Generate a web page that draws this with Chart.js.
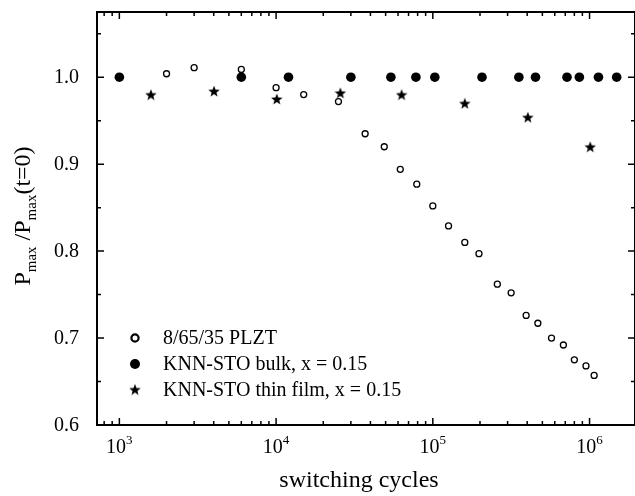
<!DOCTYPE html>
<html>
<head>
<meta charset="utf-8">
<script src="https://cdn.jsdelivr.net/npm/chart.js@4.4.0/dist/chart.umd.min.js"></script>
<style>
    html, body { margin: 0; padding: 0; background: #fff; overflow: hidden; }
    #wrap { position: relative; width: 642px; height: 496px; }
</style>
</head>
<body>
<div id="wrap"><canvas id="chart"></canvas></div>
<script>
// 8/65/35 PLZT (open circles)
const plztCycles = [2000, 3000, 6000, 10000, 15000, 25000, 37000, 49000, 62000, 79000, 100000, 126000, 160000, 197000, 258000, 316000, 394000, 468000, 572000, 681000, 800000, 949000, 1070000];
const plztValues = [1.004, 1.011, 1.009, 0.988, 0.980, 0.972, 0.935, 0.920, 0.894, 0.877, 0.852, 0.829, 0.810, 0.797, 0.762, 0.752, 0.726, 0.717, 0.700, 0.692, 0.675, 0.668, 0.657];

// KNN-STO bulk (filled circles)
const bulkCycles = [1000, 6000, 12000, 30000, 54000, 78000, 103000, 206000, 354000, 452000, 718000, 861000, 1140000, 1490000];
const bulkValues = [1.0, 1.0, 1.0, 1.0, 1.0, 1.0, 1.0, 1.0, 1.0, 1.0, 1.0, 1.0, 1.0, 1.0];

// KNN-STO thin film (stars)
const filmCycles = [1590, 4020, 10100, 25700, 63200, 160000, 404000, 1010000];
const filmValues = [0.980, 0.984, 0.975, 0.982, 0.980, 0.970, 0.954, 0.920];

const seriesLabels = ['8/65/35 PLZT', 'KNN-STO bulk, x = 0.15', 'KNN-STO thin film, x = 0.15'];

// axis ticks
const xMajorTicks = [1e3, 1e4, 1e5, 1e6];
const xTickExponents = ['3', '4', '5', '6'];
const yMajorTicks = [0.6, 0.7, 0.8, 0.9, 1.0];
const yTickLabels = ['0.6', '0.7', '0.8', '0.9', '1.0'];
const yMinorTicks = [0.65, 0.75, 0.85, 0.95, 1.05];

const FONT = '"Liberation Serif", "Times New Roman", serif';

function makeStar(size) {
    const c = document.createElement('canvas');
    c.width = size;
    c.height = size;
    const g = c.getContext('2d');
    const cx = size / 2, cy = size / 2 + 0.6;
    const R = size / 2, r = R * 0.42;
    g.beginPath();
    for (let i = 0; i < 10; i++) {
        const ang = -Math.PI / 2 + i * Math.PI / 5;
        const rad = i % 2 ? r : R;
        g.lineTo(cx + rad * Math.cos(ang), cy + rad * Math.sin(ang));
    }
    g.closePath();
    g.fillStyle = '#000';
    g.fill();
    return c;
}
const starImg = makeStar(12);

function toPoints(xs, ys) {
    return xs.map((x, i) => ({ x: x, y: ys[i] }));
}

// draws a list of [text, size, dy] runs one after another
function drawRuns(ctx, runs, x, y) {
    let cx = x;
    runs.forEach(r => {
        ctx.font = r[1] + 'px ' + FONT;
        ctx.fillText(r[0], cx, y + r[2]);
        cx += ctx.measureText(r[0]).width;
    });
}
function runsWidth(ctx, runs) {
    let w = 0;
    runs.forEach(r => {
        ctx.font = r[1] + 'px ' + FONT;
        w += ctx.measureText(r[0]).width;
    });
    return w;
}

const framePlugin = {
    id: 'frame',
    afterDraw(chart) {
        const ctx = chart.ctx;
        const a = chart.chartArea;
        const xs = chart.scales.x, ys = chart.scales.y;
        ctx.save();
        ctx.strokeStyle = '#000';
        ctx.fillStyle = '#000';

        // frame
        ctx.lineWidth = 2;
        ctx.strokeRect(a.left, a.top, a.right - a.left, a.bottom - a.top);

        // inward ticks on all four sides
        ctx.lineWidth = 1.5;
        ctx.beginPath();
        yMajorTicks.forEach(v => {
            const py = ys.getPixelForValue(v);
            ctx.moveTo(a.left, py); ctx.lineTo(a.left + 7, py);
            ctx.moveTo(a.right, py); ctx.lineTo(a.right - 7, py);
        });
        yMinorTicks.forEach(v => {
            const py = ys.getPixelForValue(v);
            ctx.moveTo(a.left, py); ctx.lineTo(a.left + 4, py);
            ctx.moveTo(a.right, py); ctx.lineTo(a.right - 4, py);
        });
        for (let d = 100; d <= 1e6; d *= 10) {
            for (let m = 1; m <= 9; m++) {
                const v = d * m;
                if (v < xs.min || v > xs.max) continue;
                const px = xs.getPixelForValue(v);
                const len = m === 1 ? 7 : 4;
                ctx.moveTo(px, a.bottom); ctx.lineTo(px, a.bottom - len);
                ctx.moveTo(px, a.top); ctx.lineTo(px, a.top + len);
            }
        }
        ctx.stroke();

        // y tick labels
        ctx.font = '20px ' + FONT;
        ctx.textAlign = 'right';
        ctx.textBaseline = 'middle';
        yMajorTicks.forEach((v, i) => {
            ctx.fillText(yTickLabels[i], a.left - 18, ys.getPixelForValue(v) + 1);
        });

        // x tick labels 10^n
        ctx.textAlign = 'left';
        ctx.textBaseline = 'alphabetic';
        xMajorTicks.forEach((v, i) => {
            const runs = [['10', 20, 0], [xTickExponents[i], 13, -9]];
            const w = runsWidth(ctx, runs);
            drawRuns(ctx, runs, xs.getPixelForValue(v) - w / 2, a.bottom + 28);
        });

        // x title
        ctx.font = '24px ' + FONT;
        ctx.textAlign = 'center';
        ctx.fillText('switching cycles', 359, 487);

        // y title (rotated)
        const yRuns = [['P', 24, 0], ['max', 15, 6], [' /', 24, 0], ['P', 24, 0], ['max', 15, 6], ['(t=0)', 24, 0]];
        ctx.save();
        ctx.translate(30, 216);
        ctx.rotate(-Math.PI / 2);
        ctx.textAlign = 'left';
        const yw = runsWidth(ctx, yRuns);
        drawRuns(ctx, yRuns, -yw / 2, 0);
        ctx.restore();

        // legend
        const lx = a.left + 38;
        const rows = [a.bottom - 87, a.bottom - 61, a.bottom - 35];
        ctx.lineWidth = 2.2;
        ctx.beginPath();
        ctx.arc(lx, rows[0], 3.6, 0, Math.PI * 2);
        ctx.stroke();
        ctx.beginPath();
        ctx.arc(lx, rows[1], 5, 0, Math.PI * 2);
        ctx.fill();
        ctx.drawImage(starImg, lx - 6, rows[2] - 6.5, 12, 12);
        ctx.font = '20px ' + FONT;
        ctx.textAlign = 'left';
        ctx.textBaseline = 'middle';
        seriesLabels.forEach((t, i) => ctx.fillText(t, lx + 28, rows[i] + 1));

        ctx.restore();
    }
};

new Chart(document.getElementById('chart'), {
    type: 'scatter',
    data: {
        datasets: [
            {
                label: seriesLabels[0],
                data: toPoints(plztCycles, plztValues),
                pointStyle: 'circle',
                pointRadius: 3,
                borderWidth: 1.3,
                borderColor: '#000',
                backgroundColor: '#fff'
            },
            {
                label: seriesLabels[1],
                data: toPoints(bulkCycles, bulkValues),
                pointStyle: 'circle',
                pointRadius: 4.8,
                borderWidth: 0,
                borderColor: '#000',
                backgroundColor: '#000'
            },
            {
                label: seriesLabels[2],
                data: toPoints(filmCycles, filmValues),
                pointStyle: starImg,
                pointRadius: 6,
                borderColor: '#000',
                backgroundColor: '#000'
            }
        ]
    },
    options: {
        responsive: true,
        maintainAspectRatio: false,
        animation: false,
        layout: {
            padding: { left: 97, right: 5, top: 12, bottom: 71 }
        },
        scales: {
            x: { type: 'logarithmic', min: 720, max: 1950000, display: false },
            y: { type: 'linear', min: 0.6, max: 1.075, display: false }
        },
        plugins: {
            legend: { display: false },
            tooltip: { enabled: false }
        }
    },
    plugins: [framePlugin]
});
</script>
</body>
</html>
